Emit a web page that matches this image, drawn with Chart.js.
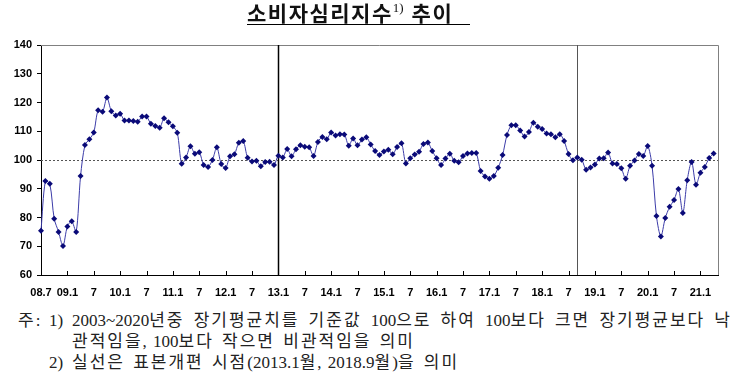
<!DOCTYPE html>
<html>
<head>
    <title>소비자심리지수 추이</title>
    <script src="https://cdn.jsdelivr.net/npm/chart.js"></script>
    <style>
        body {margin: 0; background: #fff; width: 751px; height: 389px; position: relative; overflow: hidden;}
        #chartBox {position: absolute; left: 0; top: 0; width: 751px; height: 300px;}
        #charttitle {position: absolute; left: 247px; top: 0px; width: 223px; white-space: nowrap;
            font: bold 21px "Noto Sans CJK KR", sans-serif; letter-spacing: 1.5px; line-height: 24px; border-bottom: 1.5px solid #000; color: #111;}
        #charttitle sup {font: 13px "Liberation Serif", serif; letter-spacing: 0; position: relative; top: -1px; margin-right: 8px;}
        .note {position: absolute; font-family: "Liberation Serif", "Noto Sans CJK KR", serif; font-size: 17px;
            letter-spacing: 2px; word-spacing: 2px; line-height: 20px; color: #222; white-space: nowrap;}
        .note .n {letter-spacing: 0;}
        #line1 {width: 660px; text-align: justify; text-align-last: justify;}
    </style>
</head>
<body>
    <div id="chartBox"><canvas id="myChart" width="751" height="300"></canvas></div>
    <div id="charttitle">소비자심리지수<sup>1)</sup>추이</div>
    <div class="note" style="left:18px; top:311px;">주:</div>
    <div class="note" style="left:49px; top:311px;"><span class="n">1)</span></div>
    <div class="note" id="line1" style="left:72px; top:311px;"><span class="n">2003~2020</span>년중 장기평균치를 기준값 <span class="n">100</span>으로 하여 <span class="n">100</span>보다 크면 장기평균보다 낙</div>
    <div class="note" style="left:72px; top:332px;">관적임을<span class="n">, 100</span>보다 작으면 비관적임을 의미</div>
    <div class="note" style="left:49px; top:353px;"><span class="n">2)</span></div>
    <div class="note" style="left:72px; top:353px;">실선은 표본개편 시점<span class="n">(2013.1</span>월<span class="n">, 2018.9</span>월<span class="n">)</span>을 의미</div>
    <script>
        // monthly index values
        var ccsi2008 = [75.4, 92.7, 91.7, 79.6, 75.0, 70.1];   // Jul-Dec
        var ccsi2009 = [76.9, 78.7, 75.0, 94.4, 105.2, 107.2, 109.6, 117.3, 116.8, 121.7, 117.0, 115.5];
        var ccsi2010 = [116.1, 113.7, 113.7, 113.6, 113.3, 115.1, 115.1, 112.6, 111.8, 111.2, 114.5, 113.1];
        var ccsi2011 = [111.7, 109.5, 98.7, 100.9, 104.8, 102.2, 102.7, 98.3, 97.6, 100.0, 104.4, 98.6];
        var ccsi2012 = [97.2, 101.3, 102.0, 106.0, 106.6, 100.8, 99.5, 99.7, 97.8, 99.3, 99.4, 98.3];
        var ccsi2013 = [101.5, 100.9, 103.8, 101.3, 103.7, 105.1, 104.6, 104.4, 101.4, 106.3, 108.0, 107.2];
        var ccsi2014 = [109.6, 108.5, 109.0, 108.9, 105.0, 107.5, 105.1, 107.1, 107.9, 105.4, 103.1, 101.7];
        var ccsi2015 = [103.0, 103.6, 102.0, 104.5, 105.8, 98.8, 100.6, 101.9, 102.9, 105.6, 106.1, 103.1];
        var ccsi2016 = [100.6, 98.3, 100.5, 102.2, 99.7, 99.2, 101.4, 102.3, 102.4, 102.4, 96.2, 94.3];
        var ccsi2017 = [93.5, 94.4, 97.3, 101.7, 108.7, 112.1, 112.1, 110.3, 108.2, 109.7, 113.0, 111.6];
        var ccsi2018 = [110.8, 109.2, 109.0, 107.9, 109.0, 106.6, 102.1, 99.9, 100.9, 100.1, 96.6, 97.4];
        var ccsi2019 = [98.4, 100.5, 100.6, 102.6, 98.8, 98.6, 97.1, 93.5, 98.0, 99.8, 102.1, 101.4];
        var ccsi2020 = [104.9, 98.0, 80.5, 73.4, 79.8, 83.7, 86.1, 89.9, 81.6, 93.0, 99.3, 91.4];
        var ccsi2021 = [95.6, 97.6, 100.7, 102.3];              // Jan-Apr

        var yTicks = [60, 70, 80, 90, 100, 110, 120, 130, 140];
        var baseValue = 100;                     // long-run average line
        var sampleBreaks = ['2013.1', '2018.9']; // solid vertical lines

        // month categories 2008.7 .. 2021.5 (last one left empty)
        var months = [];
        for (var y = 2008; y <= 2021; y++) {
            for (var m = 1; m <= 12; m++) {
                if (y === 2008 && m < 7) continue;
                if (y === 2021 && m > 5) continue;
                months.push(y + '.' + m);
            }
        }
        var values = [].concat(ccsi2008, ccsi2009, ccsi2010, ccsi2011, ccsi2012, ccsi2013, ccsi2014,
                               ccsi2015, ccsi2016, ccsi2017, ccsi2018, ccsi2019, ccsi2020, ccsi2021);

        var guides = {
            id: 'guides',
            beforeDatasetsDraw: function(chart) {
                var ctx = chart.ctx, a = chart.chartArea;
                var xs = chart.scales.x, ys = chart.scales.y;
                ctx.save();
                // frame top + right
                ctx.strokeStyle = '#808080';
                ctx.lineWidth = 1;
                ctx.beginPath();
                ctx.moveTo(a.left, a.top + 0.5);
                ctx.lineTo(a.right + 0.5, a.top + 0.5);
                ctx.lineTo(a.right + 0.5, a.bottom);
                ctx.stroke();
                // 100 line
                var yb = Math.round(ys.getPixelForValue(baseValue)) + 0.5;
                ctx.strokeStyle = '#555';
                ctx.setLineDash([2, 2]);
                ctx.beginPath();
                ctx.moveTo(a.left, yb);
                ctx.lineTo(a.right, yb);
                ctx.stroke();
                ctx.setLineDash([]);
                // sample redesign lines
                sampleBreaks.forEach(function(lab, k) {
                    var xp = Math.round(xs.getPixelForValue(months.indexOf(lab))) + 0.5;
                    ctx.strokeStyle = k === 0 ? '#000' : '#555';
                    ctx.lineWidth = k === 0 ? 1.5 : 1;
                    ctx.beginPath();
                    ctx.moveTo(xp, a.top);
                    ctx.lineTo(xp, a.bottom);
                    ctx.stroke();
                });
                // x ticks pointing inward
                ctx.strokeStyle = '#000';
                ctx.lineWidth = 1;
                xs.ticks.forEach(function(t, i) {
                    var xp = Math.round(xs.getPixelForTick(i)) + 0.5;
                    ctx.beginPath();
                    ctx.moveTo(xp, a.bottom);
                    ctx.lineTo(xp, a.bottom - 4);
                    ctx.stroke();
                });
                ctx.restore();
            }
        };

        var ctx = document.getElementById('myChart').getContext('2d');
        new Chart(ctx, {
            type: 'line',
            data: {
                labels: months,
                datasets: [{
                    label: '소비자심리지수',
                    data: values,
                    borderColor: '#3b3ba8',
                    borderWidth: 1,
                    pointStyle: 'rectRot',
                    pointRadius: 3,
                    pointBorderWidth: 0,
                    pointBackgroundColor: '#0a0a78',
                    tension: 0.3
                }]
            },
            options: {
                responsive: false,
                animation: false,
                layout: {padding: {top: 45, right: 33, left: 0, bottom: 0}},
                plugins: {legend: {display: false}, tooltip: {enabled: false}},
                scales: {
                    x: {
                        offset: false,
                        grid: {display: false},
                        border: {display: true, color: '#000', width: 1},
                        afterBuildTicks: function(scale) {
                            scale.ticks = scale.ticks.filter(function(t) {
                                var mm = months[t.value].split('.')[1];
                                return mm === '1' || mm === '7';
                            });
                        },
                        afterFit: function(scale) { scale.height = 25; },
                        ticks: {
                            autoSkip: false,
                            maxRotation: 0,
                            padding: 3,
                            color: '#000',
                            font: {family: 'Liberation Sans', size: 11, weight: 'bold'},
                            callback: function(value, index) {
                                var lab = this.getLabelForValue(value);
                                var parts = lab.split('.');
                                if (index === 0) return parts[0].slice(2) + '.' + parts[1];
                                return parts[1] === '1' ? parts[0].slice(2) + '.1' : parts[1];
                            }
                        }
                    },
                    y: {
                        min: 60,
                        max: 140,
                        afterBuildTicks: function(scale) {
                            scale.ticks = yTicks.map(function(v) { return {value: v}; });
                        },
                        afterFit: function(scale) { scale.width = 41; },
                        grid: {drawOnChartArea: false, tickLength: 4, color: '#000'},
                        border: {display: true, color: '#000', width: 1},
                        ticks: {
                            padding: 5,
                            color: '#000',
                            font: {family: 'Liberation Sans', size: 11, weight: 'bold'}
                        }
                    }
                }
            },
            plugins: [guides]
        });
    </script>
</body>
</html>
